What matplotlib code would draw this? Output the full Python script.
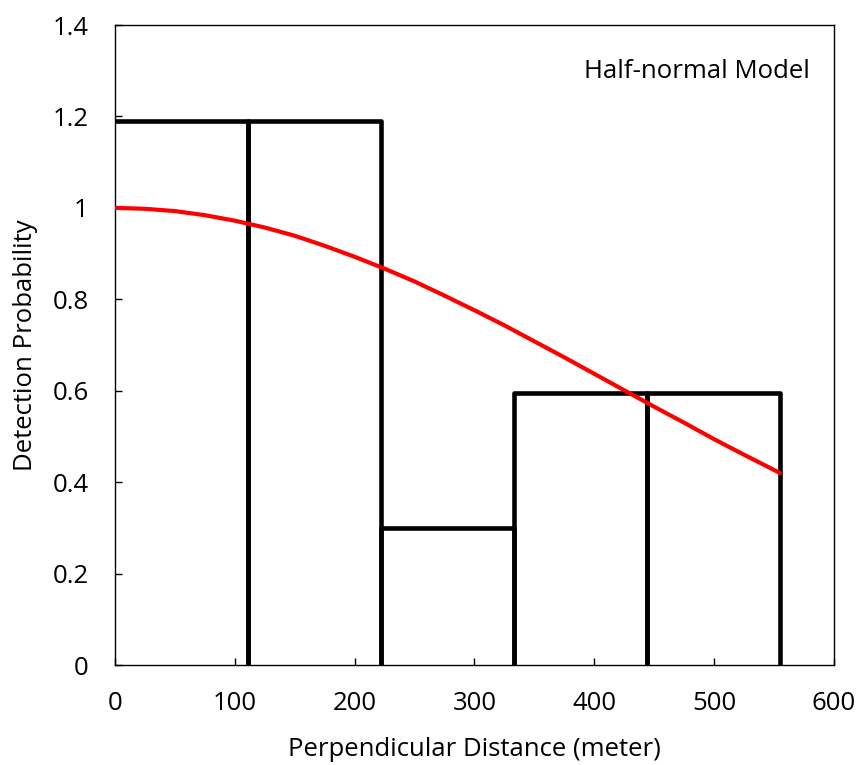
import matplotlib.pyplot as plt
import numpy as np

plt.rcParams['font.family'] = ['Open Sans', 'DejaVu Sans']

# histogram bins (perpendicular distance, meter) and scaled heights
bin_edges = [0, 111, 222, 333, 444, 555]
bin_heights = [1.19, 1.19, 0.30, 0.595, 0.595]

# half-normal detection curve
curve_x = [0, 25, 50, 75, 100, 125, 150, 175, 200, 225, 250, 275, 300,
           325, 350, 375, 400, 425, 450, 475, 500, 525, 555]
curve_y = [1.000, 0.998, 0.993, 0.984, 0.972, 0.957, 0.939, 0.917, 0.893,
           0.867, 0.839, 0.808, 0.776, 0.743, 0.708, 0.673, 0.637, 0.601,
           0.565, 0.530, 0.494, 0.460, 0.420]

fig = plt.figure(figsize=(8.6, 7.65), dpi=100)
ax = fig.add_axes([0.1337, 0.1307, 0.836, 0.8366])

for i, h in enumerate(bin_heights):
    l, r = bin_edges[i], bin_edges[i + 1]
    if l > 0:
        xs, ys = [l, l, r, r], [0, h, h, 0]
    else:
        # left edge sits on the y axis, so skip it
        xs, ys = [l, r, r], [h, h, 0]
    ax.plot(xs, ys, color='black', lw=3.3,
            solid_joinstyle='round', solid_capstyle='round', zorder=2)

ax.plot(curve_x, curve_y, color='#ff0000', lw=3, solid_capstyle='round', zorder=3)

ax.text(0.967, 0.927, 'Half-normal Model', transform=ax.transAxes,
        ha='right', va='center', fontsize=18.5)

ax.set_xlim(0, 600)
ax.set_ylim(0, 1.4)
ax.set_xticks(np.arange(0, 601, 100))
ax.set_yticks(np.arange(0, 1.41, 0.2))
ax.set_yticklabels(['0', '0.2', '0.4', '0.6', '0.8', '1', '1.2', '1.4'])
ax.tick_params(direction='in', length=5, width=1, labelsize=18.5)
ax.tick_params(axis='y', pad=19)
ax.tick_params(axis='x', pad=19)
for s in ax.spines.values():
    s.set_linewidth(1)
ax.set_xlabel('Perpendicular Distance (meter)', fontsize=18.5, labelpad=15)
ax.set_ylabel('Detection Probability', fontsize=18.5, labelpad=10)

fig.savefig('out.png', dpi=100)
